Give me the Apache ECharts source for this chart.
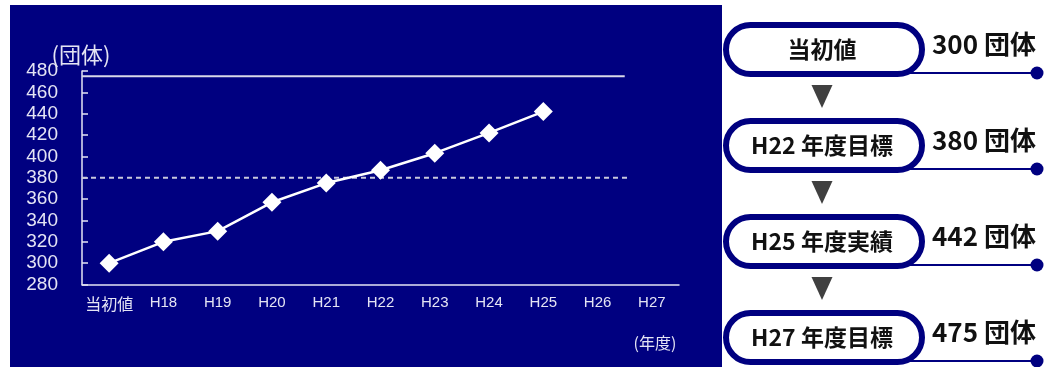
<!DOCTYPE html>
<html>
<head>
<meta charset="utf-8">
<script src="https://cdn.jsdelivr.net/npm/echarts@6/dist/echarts.min.js"></script>
<style>
  html, body { margin: 0; padding: 0; background: #ffffff; }
  #chart { width: 1055px; height: 367px; }
</style>
</head>
<body>
<div id="chart"></div>
<script>
// Categories (fiscal years) and the registered-group counts per year
const categories = ['当初値', 'H18', 'H19', 'H20', 'H21', 'H22', 'H23', 'H24', 'H25', 'H26', 'H27'];
const actualValues = [300, 320, 330, 357, 375, 387, 403, 422, 442];
const targetH22 = 380;
const targetH27 = 475;
const yTicks = { min: 280, max: 480, interval: 20 };

// Summary panel on the right
const panelLabels = ['当初値', 'H22 年度目標', 'H25 年度実績', 'H27 年度目標'];
const panelValues = [300, 380, 442, 475];
const unitLabel = '団体';

const NAVY = '#000080';
const LIGHT = '#e4e4f4';
const CJK = 'Noto Sans CJK JP';

const chart = echarts.init(document.getElementById('chart'), null, { renderer: 'canvas' });

// Right-hand flow panel: pill boxes, arrows, value captions and leader dots
const panel = [];
panelLabels.forEach((label, i) => {
  const cy = 49.5 + i * 96;
  const dotY = cy + 23.5;
  panel.push({
    type: 'line', z: 100,
    shape: { x1: 880, y1: dotY, x2: 1037, y2: dotY },
    style: { stroke: NAVY, lineWidth: 2 }
  });
  panel.push({
    type: 'circle', z: 101,
    shape: { cx: 1037, cy: dotY, r: 6.5 },
    style: { fill: NAVY }
  });
  panel.push({
    type: 'rect', z: 102,
    shape: { x: 726, y: cy - 24.5, width: 196, height: 49, r: 24.5 },
    style: { fill: '#ffffff', stroke: NAVY, lineWidth: 6 }
  });
  panel.push({
    type: 'text', z: 103,
    x: 822, y: cy,
    style: {
      text: label, fill: '#111111',
      font: 'bold 23px "' + CJK + '"',
      textAlign: 'center', align: 'center',
      textVerticalAlign: 'middle', verticalAlign: 'middle'
    }
  });
  panel.push({
    type: 'text', z: 103,
    x: 932, y: cy - 5,
    style: {
      text: panelValues[i] + ' ' + unitLabel, fill: '#111111',
      font: 'bold 26px "' + CJK + '"',
      textAlign: 'left', align: 'left',
      textVerticalAlign: 'middle', verticalAlign: 'middle'
    }
  });
  if (i < panelLabels.length - 1) {
    const ay = cy + 35.5;
    panel.push({
      type: 'polygon', z: 103,
      shape: { points: [[811.5, ay], [832.5, ay], [822, ay + 23]] },
      style: { fill: '#404040' }
    });
  }
});

const option = {
  backgroundColor: '#ffffff',
  animation: false,
  grid: { left: 82, top: 71, right: 376, bottom: 82.5, containLabel: false },
  xAxis: [
    {
      type: 'category',
      data: categories,
      boundaryGap: true,
      axisLine: { lineStyle: { color: LIGHT, width: 1.5 } },
      axisTick: { inside: true, length: 4, interval: 0, lineStyle: { color: LIGHT, width: 1.5 } },
      axisLabel: {
        interval: 0,
        color: LIGHT,
        fontFamily: 'Liberation Sans',
        fontSize: 15,
        margin: 11,
        formatter: v => (v === categories[0] ? '{cjk|' + v + '}' : v),
        rich: { cjk: { fontFamily: CJK, fontSize: 16, color: LIGHT } }
      },
      splitLine: { show: false }
    },
    {
      // hidden linear axis used to span the target lines across the plot
      type: 'value', min: 0, max: categories.length, show: false
    }
  ],
  yAxis: {
    type: 'value',
    min: yTicks.min, max: yTicks.max, interval: yTicks.interval,
    axisLine: { show: true, lineStyle: { color: LIGHT, width: 1.5 } },
    axisTick: { show: true, inside: true, length: 6, lineStyle: { color: LIGHT, width: 1.5 } },
    axisLabel: { color: LIGHT, fontFamily: 'Liberation Sans', fontSize: 19, margin: 24 },
    splitLine: { show: false }
  },
  series: [
    {
      name: 'H27目標',
      type: 'line', xAxisIndex: 1,
      data: [[0, targetH27], [10, targetH27]],
      symbol: 'none', silent: true,
      lineStyle: { color: '#d8d8e8', width: 2 }
    },
    {
      name: 'H22目標',
      type: 'line', xAxisIndex: 1,
      data: [[0, targetH22], [10.08, targetH22]],
      symbol: 'none', silent: true,
      lineStyle: { color: '#c8c8dc', width: 2, type: [5, 4] }
    },
    {
      name: '実績',
      type: 'line', xAxisIndex: 0,
      data: actualValues,
      symbol: 'diamond', symbolSize: 19,
      itemStyle: { color: '#ffffff' },
      lineStyle: { color: '#ffffff', width: 2.5 },
      z: 5
    }
  ],
  graphic: [
    {
      type: 'rect', z: -100,
      shape: { x: 10, y: 5, width: 712, height: 362 },
      style: { fill: NAVY }
    },
    {
      type: 'text', z: 50,
      x: 81, y: 55,
      style: {
        text: '(団体)', fill: LIGHT, font: '22px "' + CJK + '"',
        textAlign: 'center', align: 'center',
        textVerticalAlign: 'middle', verticalAlign: 'middle'
      }
    },
    {
      type: 'text', z: 50,
      x: 655, y: 343,
      style: {
        text: '(年度)', fill: LIGHT, font: '16px "' + CJK + '"',
        textAlign: 'center', align: 'center',
        textVerticalAlign: 'middle', verticalAlign: 'middle'
      }
    }
  ].concat(panel)
};

chart.setOption(option);
</script>
</body>
</html>
